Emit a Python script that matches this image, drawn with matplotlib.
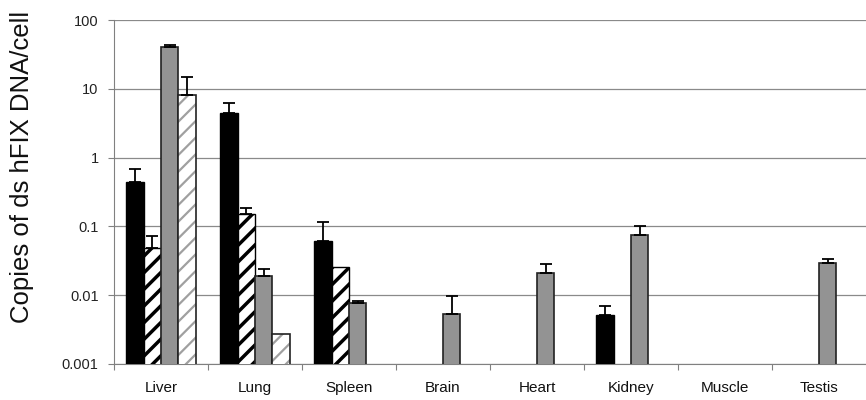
import numpy as np
import matplotlib
matplotlib.use('Agg')
import matplotlib.pyplot as plt

plt.rcParams['font.family'] = ['Liberation Sans', 'DejaVu Sans']

# 조직별 카테고리
tissues = ['Liver', 'Lung', 'Spleen', 'Brain', 'Heart', 'Kidney', 'Muscle', 'Testis']
nan = np.nan

# 네 개 시리즈 (막대 높이) 와 에러바 위쪽 끝값
black_vals = [0.44, 4.5, 0.061, nan, nan, 0.0052, nan, nan]
black_top = [0.69, 6.2, 0.114, nan, nan, 0.0069, nan, nan]

hatch_vals = [0.049, 0.149, 0.026, nan, nan, nan, nan, nan]
hatch_top = [0.072, 0.187, nan, nan, nan, nan, nan, nan]

gray_vals = [41, 0.0188, 0.0076, 0.0054, 0.021, 0.075, nan, 0.029]
gray_top = [43, 0.024, 0.0083, 0.0097, 0.028, 0.1, nan, 0.034]

light_vals = [8.2, 0.00272, nan, nan, nan, nan, nan, nan]
light_top = [14.9, nan, nan, nan, nan, nan, nan, nan]

y_ticks = [0.001, 0.01, 0.1, 1, 10, 100]
y_tick_labels = ['0.001', '0.01', '0.1', '1', '10', '100']

fig = plt.figure(figsize=(8.66, 4.0), dpi=100)
ax = fig.add_axes([0.1316, 0.09, 0.8684, 0.86])
ax.set_yscale('log')

x = np.arange(len(tissues))
w = 0.185
offsets = np.array([-1.5, -0.5, 0.5, 1.5]) * w


def draw_err(xpos, vals, tops):
    vals = np.array(vals, dtype=float)
    tops = np.array(tops, dtype=float)
    m = ~np.isnan(tops)
    if m.any():
        up = tops[m] - vals[m]
        ax.errorbar(xpos[m], vals[m], yerr=[np.zeros_like(up), up], fmt='none',
                    ecolor='black', elinewidth=1.3, capsize=4, capthick=1.3, zorder=4)


gray = '#939393'

# 검정 막대
ax.bar(x + offsets[0], black_vals, w, color='black', edgecolor='black', linewidth=1, zorder=3)

# 검정 빗금 막대
with plt.rc_context({'hatch.linewidth': 2.5}):
    ax.bar(x + offsets[1], hatch_vals, w, color='white', edgecolor='black', hatch='//',
           linewidth=1, zorder=3)

# 회색 막대
ax.bar(x + offsets[2], gray_vals, w, color=gray, edgecolor='#222222', linewidth=1.2, zorder=3)

# 연한 회색 빗금 막대 (빗금은 회색, 테두리는 검정)
with plt.rc_context({'hatch.linewidth': 1.6}):
    ax.bar(x + offsets[3], light_vals, w, color='white', edgecolor='#a0a0a0', hatch='//',
           linewidth=0, zorder=3)
ax.bar(x + offsets[3], light_vals, w, color='none', edgecolor='#222222', linewidth=1.2, zorder=3.5)

draw_err(x + offsets[0], black_vals, black_top)
draw_err(x + offsets[1], hatch_vals, hatch_top)
draw_err(x + offsets[2], gray_vals, gray_top)
draw_err(x + offsets[3], light_vals, light_top)

ax.set_ylim(0.001, 100)
ax.set_xlim(-0.5, len(tissues) - 0.5)
ax.set_yticks(y_ticks)
ax.set_yticklabels(y_tick_labels, fontsize=10.5, color='#222222')
ax.yaxis.set_minor_locator(matplotlib.ticker.NullLocator())
ax.tick_params(axis='y', length=4, width=0.8, color='#808080', pad=7)

ax.set_xticks(x)
ax.set_xticklabels(tissues, fontsize=11, color='#111111')
ax.set_xticks(np.arange(len(tissues)) - 0.5, minor=True)
ax.tick_params(axis='x', which='major', length=0, pad=12)
ax.tick_params(axis='x', which='minor', length=4, width=0.8, color='#808080')

ax.yaxis.grid(True, color='#8a8a8a', linewidth=0.9, zorder=0)
ax.set_axisbelow(True)
for s in ['top', 'right']:
    ax.spines[s].set_visible(False)
ax.spines['left'].set_color('#808080')
ax.spines['bottom'].set_color('#808080')

ax.set_ylabel('Copies of ds hFIX DNA/cell', fontsize=18.5, color='#111111')
ax.yaxis.set_label_coords(-0.106, 0.572)

fig.savefig('out.png', dpi=100)
